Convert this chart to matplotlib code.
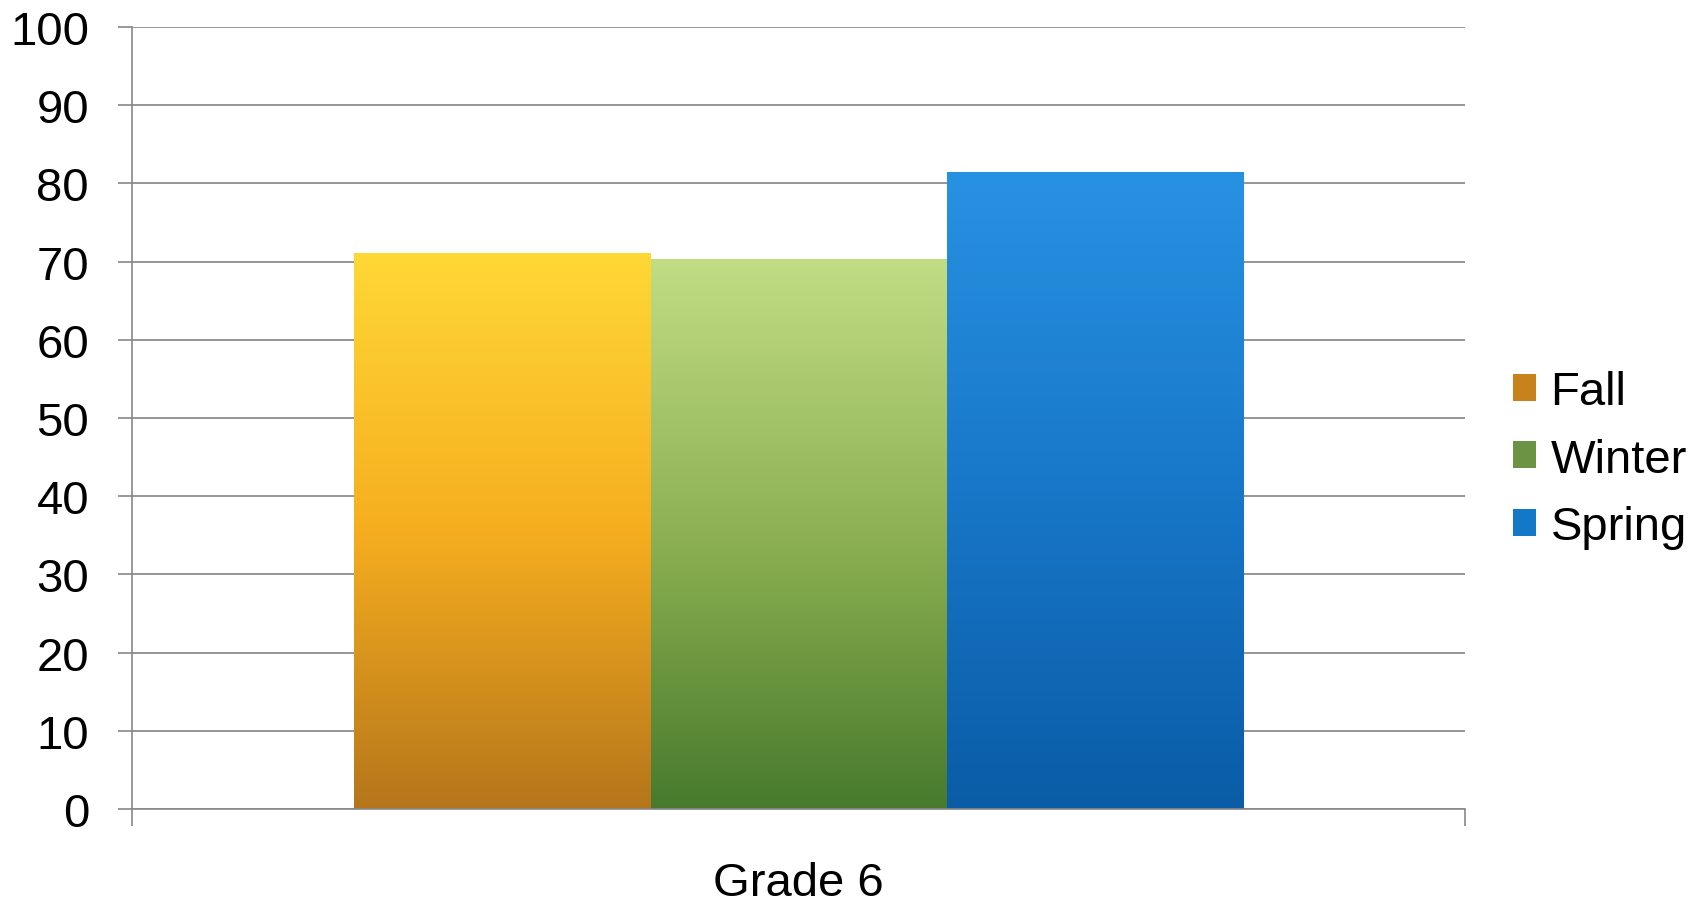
import numpy as np
import matplotlib.pyplot as plt
from matplotlib.colors import LinearSegmentedColormap
from matplotlib.patches import Patch

plt.rcParams['font.family'] = ['Liberation Sans', 'DejaVu Sans']

# dados
grupo = 'Grade 6'
series = ['Fall', 'Winter', 'Spring']
valores = [71.1, 70.3, 81.5]
# cores do gradiente (topo, meio, base)
gradientes = [
    ['#FFD836', '#F6AE1F', '#B5761B'],
    ['#C2DD84', '#8DB152', '#477A2C'],
    ['#2892E2', '#1877C8', '#0A5CA6'],
]
cores_legenda = ['#C8821C', '#6A9444', '#1478C8']

fig = plt.figure(figsize=(16.94, 9.03), dpi=100)
ax = fig.add_axes([0.078, 0.103, 0.787, 0.866])

x = np.arange(len(series)) - 1
barras = ax.bar(x, valores, width=1.0, color='none', zorder=2)

# preenche cada barra com um gradiente vertical
grad = np.linspace(1, 0, 256).reshape(-1, 1)
for barra, cores in zip(barras, gradientes):
    cmap = LinearSegmentedColormap.from_list('g', cores[::-1])
    x0, y0 = barra.get_x(), barra.get_y()
    w, h = barra.get_width(), barra.get_height()
    img = ax.imshow(grad, cmap=cmap, aspect='auto', extent=[x0, x0 + w, y0, y0 + h],
                    origin='upper', zorder=2, vmin=0, vmax=1)
    img.set_clip_path(barra)

ax.set_xlim(-2.25, 2.25)
ax.set_ylim(0, 100)
ax.set_yticks(range(0, 101, 10))
ax.tick_params(axis='y', labelsize=34, length=10, color='#888888', width=1.2, pad=21)
ax.set_xticks([-2.25, 2.25])
ax.set_xticklabels(['', ''])
ax.tick_params(axis='x', length=12, color='#888888', width=1.2)
ax.set_xlabel(grupo, fontsize=34, labelpad=22)
ax.yaxis.grid(True, color='#8C8C8C', linewidth=1.3, zorder=0)
ax.set_axisbelow(True)
for lado in ['top', 'right']:
    ax.spines[lado].set_visible(False)
ax.spines['left'].set_color('#888888')
ax.spines['bottom'].set_color('#888888')
ax.spines['left'].set_linewidth(1.2)
ax.spines['bottom'].set_linewidth(1.2)

handles = [Patch(facecolor=c, label=s) for c, s in zip(cores_legenda, series)]
fig.legend(handles=handles, loc='center left', bbox_to_anchor=(0.893, 0.49),
           frameon=False, fontsize=34, handlelength=0.5, handleheight=0.5,
           handletextpad=0.3, labelspacing=0.5, borderpad=0, borderaxespad=0)

plt.savefig('out.png', dpi=100)
